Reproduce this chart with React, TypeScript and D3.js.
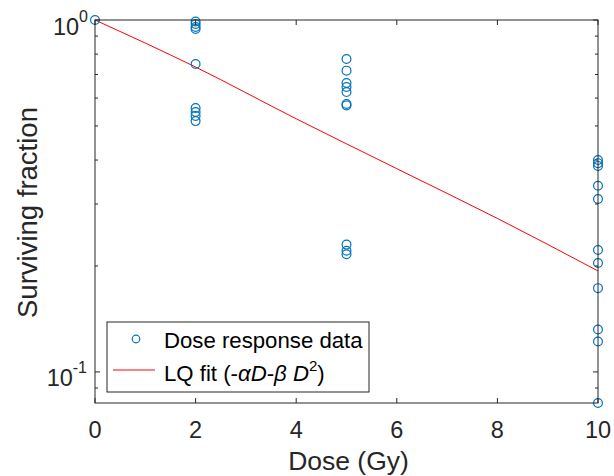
import React from "react";
import * as d3 from "d3";

// dose response measurements (Gy, surviving fraction)
const dose0 = [0];
const sf0 = [1.0];
const dose2 = [2, 2, 2, 2, 2, 2, 2, 2, 2];
const sf2 = [0.99, 0.974, 0.955, 0.943, 0.75, 0.562, 0.548, 0.534, 0.516];
const dose5 = [5, 5, 5, 5, 5, 5, 5, 5, 5, 5];
const sf5 = [0.775, 0.718, 0.662, 0.645, 0.624, 0.577, 0.572, 0.23, 0.221, 0.216];
const dose10 = [10, 10, 10, 10, 10, 10, 10, 10, 10, 10, 10];
const sf10 = [0.4, 0.392, 0.385, 0.338, 0.31, 0.222, 0.204, 0.173, 0.132, 0.122, 0.0816];

// LQ fit curve
const fitDose = [0, 2, 4, 6, 8, 10];
const fitSF = [1.0, 0.735, 0.524, 0.378, 0.273, 0.1936];

const xTicks = [0, 2, 4, 6, 8, 10];
const yMajor = [1, 0.1];
const yMinor = [0.9, 0.8, 0.7, 0.6, 0.5, 0.4, 0.3, 0.2, 0.09];

const W = 614;
const H = 476;
const font = "'Liberation Sans', Arial, Helvetica, sans-serif";
const blue = "#0072BD";
const axisColor = "#262626";

const left = 95, right = 598, top = 20, bottom = 403;

export default function App() {
  const x = d3.scaleLinear().domain([0, 10]).range([left, right]);
  const y = d3.scaleLog().domain([0.0816, 1]).range([bottom, top]);

  const doses = [...dose0, ...dose2, ...dose5, ...dose10];
  const sfs = [...sf0, ...sf2, ...sf5, ...sf10];
  const points = doses.map((d, i) => ({ d, s: sfs[i] }));

  const line = d3
    .line<number>()
    .x((d) => x(d))
    .y((d, i) => y(fitSF[i]))
    .curve(d3.curveMonotoneX);

  return (
    <div style={{ position: "fixed", left: 0, top: 0 }}>
      <svg width={W} height={H} style={{ display: "block", background: "#fff" }} fontFamily={font}>
        {/* fit line */}
        <path d={line(fitDose) || ""} fill="none" stroke="#FF0000" strokeWidth={1} />

        {/* data points */}
        {points.map((p, i) => (
          <circle key={i} cx={x(p.d)} cy={y(p.s)} r={4.4} fill="none" stroke={blue} strokeWidth={1.2} />
        ))}

        {/* box */}
        <rect x={left} y={top} width={right - left} height={bottom - top} fill="none" stroke={axisColor} strokeWidth={1} />

        {/* x ticks */}
        {xTicks.map((t) => (
          <g key={"x" + t}>
            <line x1={x(t)} x2={x(t)} y1={bottom} y2={bottom - 5} stroke={axisColor} />
            <line x1={x(t)} x2={x(t)} y1={top} y2={top + 5} stroke={axisColor} />
            <text x={x(t)} y={438} textAnchor="middle" fontSize={23.5} fill={axisColor}>
              {t}
            </text>
          </g>
        ))}

        {/* y ticks */}
        {yMajor.map((t) => (
          <g key={"ym" + t}>
            <line x1={left} x2={left + 5} y1={y(t)} y2={y(t)} stroke={axisColor} />
            <line x1={right} x2={right - 5} y1={y(t)} y2={y(t)} stroke={axisColor} />
          </g>
        ))}
        {yMinor.map((t) => (
          <g key={"yn" + t}>
            <line x1={left} x2={left + 3} y1={y(t)} y2={y(t)} stroke={axisColor} />
            <line x1={right} x2={right - 3} y1={y(t)} y2={y(t)} stroke={axisColor} />
          </g>
        ))}
        <text x={88} y={y(1) + 15} textAnchor="end" fontSize={23.5} fill={axisColor}>
          10<tspan fontSize={16} dy={-13}>0</tspan>
        </text>
        <text x={87} y={y(0.1) + 14} textAnchor="end" fontSize={23.5} fill={axisColor}>
          10<tspan fontSize={16} dy={-13}>-1</tspan>
        </text>

        {/* axis labels */}
        <text x={(left + right) / 2 + 2} y={470} textAnchor="middle" fontSize={26.5} fill={axisColor}>
          Dose (Gy)
        </text>
        <text
          transform={`translate(37, ${(top + bottom) / 2 + 1}) rotate(-90)`}
          textAnchor="middle"
          fontSize={27.5}
          fill={axisColor}
        >
          Surviving fraction
        </text>

        {/* legend */}
        <g>
          <rect x={107} y={322} width={262} height={70} fill="#fff" stroke={axisColor} strokeWidth={1} />
          <circle cx={136} cy={339} r={3.8} fill="none" stroke={blue} strokeWidth={1.2} />
          <text x={164} y={348} fontSize={22.2} fill="#000">
            Dose response data
          </text>
          <line x1={113} x2={155} y1={370} y2={370} stroke="#FF0000" strokeWidth={1} />
          <text x={164} y={381} fontSize={22.2} fill="#000">
            LQ fit (-<tspan fontStyle="italic">α</tspan>
            <tspan fontStyle="italic">D</tspan>-<tspan fontStyle="italic">β</tspan>{" "}
            <tspan fontStyle="italic">D</tspan>
            <tspan fontSize={15} dy={-10}>2</tspan>
            <tspan dy={10}>)</tspan>
          </text>
        </g>
      </svg>
    </div>
  );
}
